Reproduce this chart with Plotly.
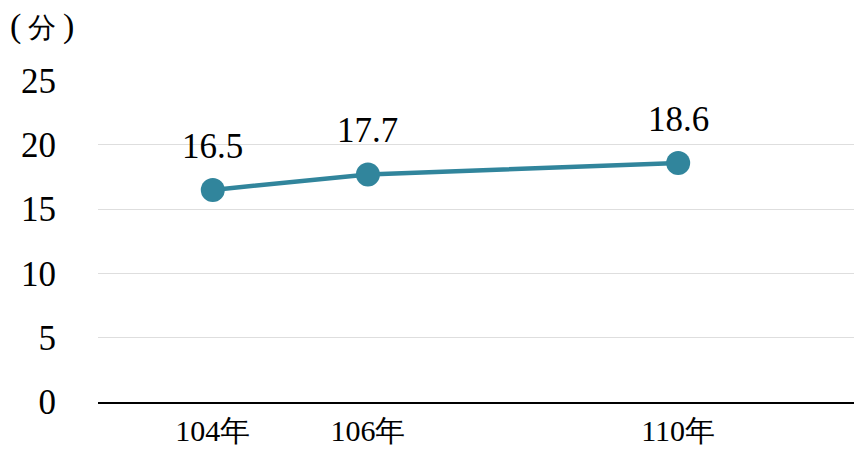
import plotly.graph_objects as go

years = [104, 106, 110]
tick_labels = ["104年", "106年", "110年"]
values = [16.5, 17.7, 18.6]
y_ticks = [0, 5, 10, 15, 20, 25]
unit_label = "(\u2009<span style='font-size:28px'>分</span>\u2009)"

color = "#31859C"
font_family = "Liberation Serif"

fig = go.Figure()
fig.add_trace(go.Scatter(
    x=years, y=values,
    mode="lines+markers",
    line=dict(color=color, width=4.5),
    marker=dict(color=color, size=24),
    hoverinfo="skip",
))

for xv, yv in zip(years, values):
    fig.add_annotation(
        x=xv, y=yv, text=f"{yv:.1f}", showarrow=False,
        yanchor="bottom", yshift=22,
        font=dict(size=35, color="black", family=font_family),
    )

fig.add_annotation(
    xref="paper", yref="paper", x=-0.118, y=1.0, yshift=54,
    xanchor="left", yanchor="middle", showarrow=False,
    text=unit_label, font=dict(size=34, color="black", family=font_family),
)

fig.update_layout(
    width=862, height=450,
    margin=dict(l=90, r=8, t=72, b=56),
    paper_bgcolor="white", plot_bgcolor="white",
    showlegend=False,
    font=dict(family=font_family, size=32, color="black"),
    xaxis=dict(
        range=[102.52, 112.37],
        tickvals=years, ticktext=tick_labels,
        showgrid=False, zeroline=False,
        showline=True, linecolor="black", linewidth=1.5,
        ticks="", ticklabelstandoff=1,
        automargin=False,
        tickfont=dict(size=30, family=font_family),
    ),
    yaxis=dict(
        range=[0, 25.05],
        tickvals=y_ticks,
        showgrid=True, gridcolor="#dedede", gridwidth=1,
        zeroline=False, showline=False,
        ticks="", ticklabelstandoff=41,
        automargin=False,
        tickfont=dict(size=35, family=font_family),
    ),
)

fig.write_html("out.html")
